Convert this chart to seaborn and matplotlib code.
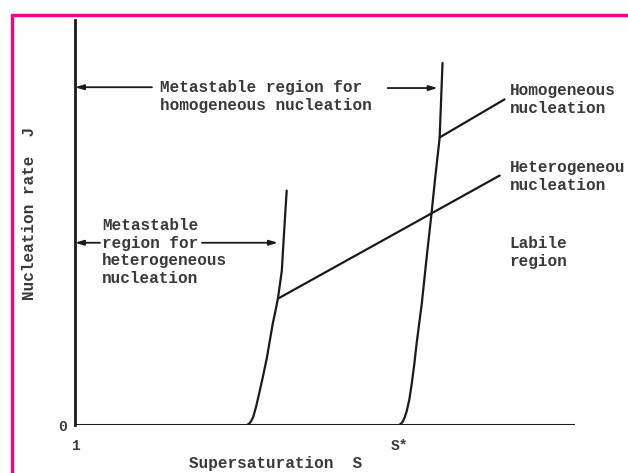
import matplotlib
matplotlib.use("Agg")
import matplotlib.pyplot as plt
import seaborn as sns
import pandas as pd
from matplotlib.lines import Line2D

# supersaturation S (S* taken as 2) and nucleation rate J (arbitrary units)
s_start = 1.0
s_star = 2.0
s_end = 2.54

het_s = [1.530, 1.536, 1.542, 1.549, 1.558, 1.569, 1.580, 1.591, 1.600, 1.609,
         1.617, 1.625, 1.637, 1.643, 1.652]
het_j = [0.0, 0.3, 0.9, 2.0, 4.6, 8.4, 12.4, 16.6, 20.8, 25.0,
         28.0, 31.2, 38.1, 46.3, 57.9]

hom_s = [1.998, 2.004, 2.010, 2.016, 2.022, 2.030, 2.037, 2.045, 2.052, 2.060,
         2.068, 2.083, 2.098, 2.110, 2.123, 2.132]
hom_j = [0.0, 0.3, 0.9, 2.0, 3.5, 6.4, 10.1, 15.0, 20.0, 25.0,
         29.9, 41.3, 52.2, 61.5, 70.8, 89.4]

het_label_s = [1.625, 2.308]
het_label_j = [31.2, 61.6]
hom_label_s = [2.123, 2.323]
hom_label_j = [71.0, 80.4]

x_ticks = [s_start, s_star]
x_tick_labels = ["1", "S*"]

het = pd.DataFrame({"S": het_s, "J": het_j})
hom = pd.DataFrame({"S": hom_s, "J": hom_j})
het_lbl = pd.DataFrame({"S": het_label_s, "J": het_label_j})
hom_lbl = pd.DataFrame({"S": hom_label_s, "J": hom_label_j})
base = pd.DataFrame({"S": [s_start, s_end], "J": [0.0, 0.0]})

sns.set_style("white")
plt.rcParams["font.family"] = ["Liberation Mono", "DejaVu Sans Mono"]
plt.rcParams["font.weight"] = "bold"
plt.rcParams["axes.labelweight"] = "bold"

ink = "#1a1a1a"
txt = "#3a3a3a"
fs = 11.5

fig = plt.figure(figsize=(6.28, 4.73), dpi=100)
ax = fig.add_axes([75 / 628, 48 / 473, 500 / 628, 405 / 473])

for d in [het, hom, het_lbl, hom_lbl]:
    sns.lineplot(data=d, x="S", y="J", ax=ax, sort=False, estimator=None,
                 color=ink, lw=1.6)
sns.lineplot(data=base, x="S", y="J", ax=ax, sort=False, estimator=None,
             color=ink, lw=2.2)

ax.set_xlim(s_start, s_end)
ax.set_ylim(0, 100)
for side in ["top", "right"]:
    ax.spines[side].set_visible(False)
ax.spines["left"].set_linewidth(2.0)
ax.spines["left"].set_color(ink)
ax.spines["bottom"].set_visible(False)

ax.set_xticks(x_ticks)
ax.set_xticklabels(x_tick_labels, fontsize=10.5, color=txt)
ax.set_yticks([0])
ax.set_yticklabels(["0"], fontsize=10.5, color=txt)
ax.tick_params(axis="x", length=0, pad=10)
ax.tick_params(axis="y", length=0, pad=6)

ax.set_xlabel("Supersaturation  S", fontsize=fs, color=txt, va="center")
ax.xaxis.set_label_coords(0.402, -0.094)
ax.set_ylabel("Nucleation rate  J", fontsize=fs, color=txt, va="center")
ax.yaxis.set_label_coords(-0.09, 0.522)

arrow = dict(arrowstyle="-|>,head_length=0.5,head_width=0.15", color=ink, lw=1.3,
             shrinkA=0, shrinkB=0)

# metastable region for homogeneous nucleation
ax.annotate("", xy=(1.0, 83.4), xytext=(1.237, 83.4), arrowprops=arrow)
ax.annotate("", xy=(2.117, 83.2), xytext=(1.963, 83.2), arrowprops=arrow)
ax.text(1.262, 81.0, "Metastable region for\nhomogeneous nucleation",
        fontsize=fs, color=txt, va="center", ha="left", linespacing=1.25)

# metastable region for heterogeneous nucleation
ax.annotate("", xy=(1.0, 45.0), xytext=(1.077, 45.0), arrowprops=arrow)
ax.annotate("", xy=(1.625, 45.0), xytext=(1.391, 45.0), arrowprops=arrow)
ax.text(1.083, 42.7, "Metastable\nregion for\nheterogeneous\nnucleation",
        fontsize=fs, color=txt, va="center", ha="left", linespacing=1.2)

ax.text(2.338, 80.4, "Homogeneous\nnucleation", fontsize=fs, color=txt,
        va="center", ha="left", linespacing=1.25, clip_on=False)
ax.text(2.338, 61.4, "Heterogeneou\nnucleation", fontsize=fs, color=txt,
        va="center", ha="left", linespacing=1.25, clip_on=False)
ax.text(2.338, 42.6, "Labile\nregion", fontsize=fs, color=txt,
        va="center", ha="left", linespacing=1.25, clip_on=False)

# magenta frame (top and left edges)
pink = "#f0058f"
fig.add_artist(Line2D([12 / 628, 1.0], [1 - 15 / 473, 1 - 15 / 473],
                      transform=fig.transFigure, color=pink, lw=2.5))
fig.add_artist(Line2D([12 / 628, 12 / 628], [0.0, 1 - 15 / 473],
                      transform=fig.transFigure, color=pink, lw=2.5))

fig.savefig("out.png", dpi=100)
